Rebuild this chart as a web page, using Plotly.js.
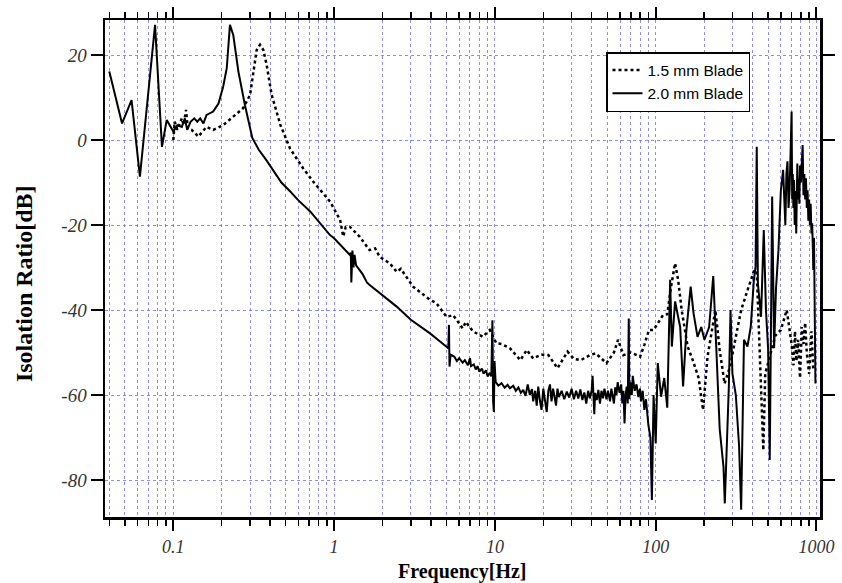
<!DOCTYPE html>
<html>
<head>
<meta charset="utf-8">
<script src="https://cdn.plot.ly/plotly-3.0.1.min.js"></script>
<style>html,body{margin:0;padding:0;background:#fff;}#chart{width:842px;height:583px;}</style>
</head>
<body>
<div id="chart"></div>
<script>
// 1.5 mm Blade (dotted)
const freq15 = [0.100,0.102,0.106,0.113,0.116,0.120,0.123,0.130,0.143,0.161,0.177,0.204,0.236,0.272,0.300,0.314,0.330,0.346,0.363,0.381,0.409,0.464,0.532,0.643,0.742,0.944,1.09,1.14,1.18,1.25,1.44,1.66,1.80,1.92,2.22,2.45,2.60,3.10,3.95,4.33,5.0,5.5,6.3,6.6,7.3,8.4,9.3,10.2,11.0,12.4,14.4,15.8,17.3,19.5,21.5,24.5,28.3,31.0,34.2,39.0,42.4,49.4,55,58.3,63,70,76,80,85,90.8,97,105,111,118,124,132,138,145,158,170,185,197,210,235,250,268,290,315,340,375,410,425,440,455,467,480,520,555,600,653,700,720,735,750,770,790,810,830,850,870,900,930,955];
const db15 = [0,4.3,2.4,5.1,3.5,7.1,2.7,2.4,0.8,3.1,2.4,3.5,5.5,7.5,10.6,15.3,21.2,22.4,21.2,17.6,10.6,3.5,-2,-6.7,-9.8,-14.5,-18.8,-22.7,-20.5,-20.4,-22.7,-25.9,-25.5,-27.5,-29,-31,-30.3,-34.5,-37.6,-38.4,-41.6,-41.2,-44.3,-42.8,-45,-46.3,-44.7,-47.8,-48,-49,-51.8,-49.4,-51.4,-50.5,-50.6,-53.7,-49.8,-51.5,-51.8,-50.6,-50.2,-52.5,-50,-47,-50.6,-50,-50.6,-51,-48.2,-44.7,-44.7,-42.5,-41.2,-41,-35,-29,-33,-40,-48.6,-51.8,-56,-63.5,-51,-40,-49.4,-57.3,-53.3,-46.3,-40,-35,-30.6,-31,-45,-62,-73,-55,-50,-46,-44.7,-40,-48,-53,-45,-52,-47,-56,-44,-48,-43,-50,-55,-45,-54.1];

// 2.0 mm Blade (solid)
const freq20 = [0.040,0.048,0.055,0.062,0.077,0.085,0.091,0.100,0.106,0.113,0.118,0.122,0.128,0.135,0.141,0.147,0.154,0.161,0.177,0.191,0.204,0.215,0.225,0.236,0.254,0.279,0.310,0.340,0.380,0.420,0.470,0.530,0.600,0.710,0.800,0.940,1.0,1.15,1.25,1.27,1.28,1.30,1.32,1.34,1.37,1.5,1.6,1.65,2.0,2.45,3.0,3.95,4.6,5.13,5.18,5.22,5.3,5.6,5.8,6.0,6.3,6.5,6.8,7.0,7.1,7.4,7.6,7.8,8.0,8.3,8.5,8.8,9.0,9.3,9.5,9.65,9.75,9.85,9.95,10.1,10.5,11.0,11.5,12.0,12.4,13.0,13.5,14.0,14.5,15.0,15.5,16.0,16.5,17.0,17.3,17.8,18.2,18.6,19.0,19.5,20.0,20.5,21.0,21.5,22.0,22.5,23.0,23.5,24.0,24.5,25.0,26.0,27.0,28.0,29.0,30.0,31.0,32.0,33.0,34.0,35.0,36.0,37.0,38.0,39.0,40.0,40.5,41.0,41.5,42.0,43.0,44.0,45.0,46.0,47.0,48.0,49.4,50.5,52.0,53.0,54.0,55.0,56.0,57.0,58.0,59.6,61.0,62.0,63.0,64.0,65.0,66.0,67.0,68.0,68.6,69.5,71.0,72.0,74.0,76.0,78.0,79.8,81.0,83.0,85.0,87.0,89.0,90.0,92.7,94.7,97,100,103,108,113,118,123,126,132,137,142,148,155,165,172,182,192,201,215,228,235,250,264,269,278,285,292,300,315,330,340,354,372,390,408,418,425,432,452,470,485,500,512,520,530,545,560,580,600,620,640,650,660,670,680,690,700,706,712,718,725,732,740,748,755,760,768,775,782,790,800,810,820,830,840,850,860,870,880,890,900,910,920,930,940,950,955,965,970,978,985];
const db20 = [16.1,3.9,9.4,-8.6,27.1,-1.6,4.7,2.0,3.5,3.1,5.1,2.4,4.3,5.1,4.3,5.1,3.9,5.9,6.7,8.6,12.5,16.9,27.1,24.7,16.1,8.2,0.5,-2.3,-4.8,-7.3,-10.0,-12.0,-14.2,-16.8,-19.2,-22.3,-23.1,-25.5,-27,-26.5,-33.5,-26,-30,-27,-29.5,-31.5,-33.5,-34,-36.5,-39.2,-42.3,-45.5,-47.5,-49.0,-43.5,-53.3,-50.5,-51.0,-52,-51.3,-52.4,-51.8,-53,-51.3,-53.2,-52.8,-54,-53.2,-54.5,-53.8,-55,-54.2,-55.6,-54.8,-55.6,-42.4,-61.5,-64,-52,-56.9,-57.8,-57.2,-58.3,-57.6,-58.4,-57.8,-59,-58.2,-59.5,-58.8,-60.2,-57.5,-60,-58.6,-61.5,-59,-62.5,-58,-61,-63.5,-58.5,-61.5,-64,-59,-57.5,-61.5,-58.5,-60.5,-62.5,-58.5,-60.5,-59,-61,-59.2,-60.6,-58.5,-61,-59,-60.8,-58.7,-61.2,-59.4,-62,-59,-60.8,-58.8,-55.5,-60,-64.5,-59.5,-61.2,-58.8,-62,-59,-60.8,-58.5,-61,-59,-61.5,-58.5,-60.5,-62,-58.2,-60,-57,-59.5,-57.5,-62,-59,-66.7,-60,-58,-62,-42,-61,-57,-60,-55.5,-59,-57.5,-60.5,-58.5,-61.5,-59,-63.5,-61,-65,-67,-70,-84.7,-60,-71.4,-52.5,-60.4,-56,-63,-32.9,-48.6,-38,-40.8,-44,-58,-45,-34.5,-40.8,-46.3,-44,-47,-44,-32,-45,-68,-76.9,-85.5,-70,-58,-40,-55,-60,-72,-87,-47,-48.6,-44,-32.9,-29.8,-1.6,-33.7,-41.6,-21.2,-40,-49,-75.3,-50,-13.3,-49,-35,-25.9,-12,-7,-20,-8,-5,-16,-12,-3,6.7,-14,-8,-16,-9.4,-20,-12,-22,-8,-5.5,-14,-9,-15,-6,-10,-3,-1.2,-13,-8,-14,-9,-16,-11.8,-19,-14,-20,-15,-22,-19.6,-26,-30.6,-23,-40,-35,-57.3];

const xTickVals = [0.1,1,10,100,1000];
const xTickText = ['0.1','1','10','100','1000'];
const yTickVals = [-80,-60,-40,-20,0,20];
const yTickText = ['-80','-60','-40','-20','0','20'];
const seriesNames = ['1.5 mm Blade','2.0 mm Blade'];

// minor tick positions (2..9 per decade)
const minorVals = [];
for (let d = -2; d <= 3; d++) for (let m = 2; m <= 9; m++) minorVals.push(m * Math.pow(10, d));

const gridCol = 'rgba(100,100,245,0.75)';
const serif = 'Liberation Serif, Times New Roman, serif';
const data = [
  {x: freq15, y: db15, name: seriesNames[0], type: 'scatter', mode: 'lines',
   line: {color: '#000', width: 2.5, dash: '3px,3px'}},
  {x: freq20, y: db20, name: seriesNames[1], type: 'scatter', mode: 'lines',
   line: {color: '#000', width: 2}}
];

const layout = {
  width: 842, height: 583,
  margin: {l: 105, r: 22, t: 20, b: 66},
  paper_bgcolor: '#fff', plot_bgcolor: '#fff',
  showlegend: true,
  legend: {x: 0.7007, y: 0.9356, xanchor: 'left', yanchor: 'top',
    bgcolor: '#fff', bordercolor: '#000', borderwidth: 1.5,
    font: {family: 'Liberation Sans, Arial, sans-serif', size: 15.5, color: '#000'},
    tracegroupgap: 0},
  xaxis: {
    type: 'log', range: [-1.4248, 3.0218], autorange: false,
    tickmode: 'array', tickvals: xTickVals, ticktext: xTickText,
    ticks: 'outside', ticklen: 11, tickwidth: 2, tickcolor: '#000',
    showline: true, linecolor: '#000', linewidth: 2.5, mirror: 'allticks',
    showgrid: true, gridcolor: gridCol, griddash: 'dot', gridwidth: 1,
    zeroline: false,
    tickfont: {family: serif, size: 18, style: 'italic', color: '#333'},
    ticklabelstandoff: 1,
    minor: {tickmode: 'array', tickvals: minorVals, ticks: 'outside', ticklen: 6, tickwidth: 1.5, tickcolor: '#000',
      showgrid: true, gridcolor: gridCol, griddash: 'dot', gridwidth: 1}
  },
  yaxis: {
    range: [-88.7, 28.24], autorange: false,
    tickmode: 'array', tickvals: yTickVals, ticktext: yTickText,
    ticks: 'outside', ticklen: 12, tickwidth: 2, tickcolor: '#000',
    showline: true, linecolor: '#000', linewidth: 2.5, mirror: 'allticks',
    showgrid: true, gridcolor: gridCol, griddash: 'dot', gridwidth: 1,
    zeroline: false,
    tickfont: {family: serif, size: 19, style: 'italic', color: '#333'}
  },
  annotations: [
    {text: 'Frequency[Hz]', xref: 'paper', yref: 'paper', x: 0.5, y: -0.109, xanchor: 'center', yanchor: 'middle',
     showarrow: false, font: {family: serif, size: 20, weight: 'bold', color: '#000'}},
    {text: 'Isolation Ratio[dB]', xref: 'paper', yref: 'paper', x: -0.113, y: 0.469, xanchor: 'center', yanchor: 'middle',
     textangle: -90, showarrow: false, font: {family: serif, size: 24, weight: 'bold', color: '#000'}}
  ]
};

Plotly.newPlot('chart', data, layout, {displayModeBar: false, staticPlot: true});
</script>
</body>
</html>
